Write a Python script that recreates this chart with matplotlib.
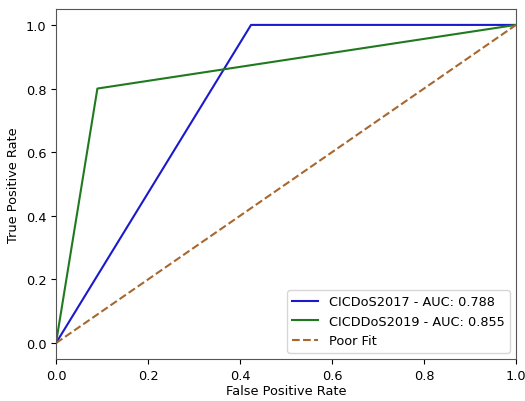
import matplotlib
matplotlib.use("Agg")
import matplotlib.pyplot as plt

fpr_2017 = [0.0, 0.424, 1.0]
tpr_2017 = [0.0, 1.0, 1.0]
fpr_2019 = [0.0, 0.09, 1.0]
tpr_2019 = [0.0, 0.80, 1.0]
auc_2017 = 0.788
auc_2019 = 0.855
poor_x = [0.0, 1.0]
poor_y = [0.0, 1.0]

fig = plt.figure(figsize=(5.25, 4.02), dpi=100)
ax = fig.add_axes([56/525, 42/402, 460/525, 350/402])
ax.plot(fpr_2017, tpr_2017, color='#1a1acc', label=f'CICDoS2017 - AUC: {auc_2017:.3f}')
ax.plot(fpr_2019, tpr_2019, color='#1f7a1f', label=f'CICDDoS2019 - AUC: {auc_2019:.3f}')
ax.plot(poor_x, poor_y, color='#a8672f', linestyle='--', label='Poor Fit')
ax.set_xlim(0, 1)
ax.set_xlabel('False Positive Rate', fontsize=9.3, labelpad=2)
ax.set_ylabel('True Positive Rate', fontsize=9.3)
ax.tick_params(labelsize=9.3)
for s in ax.spines.values():
    s.set_color('#555555')
ax.legend(loc='lower right', fontsize=9.3)
fig.savefig('out.png', dpi=100)
